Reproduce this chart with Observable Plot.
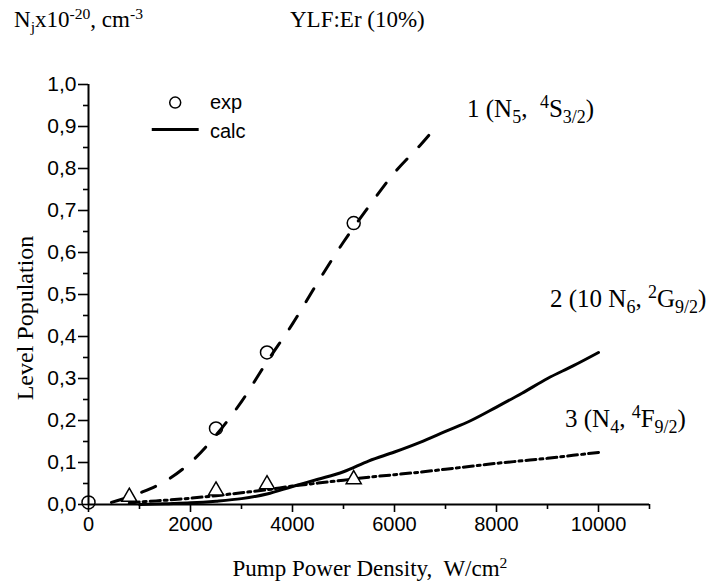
<!DOCTYPE html>
<html>
<head>
<meta charset="utf-8">
<script src="https://cdn.jsdelivr.net/npm/d3@7"></script>
<script src="https://cdn.jsdelivr.net/npm/@observablehq/plot@0.6"></script>
<style>
  html, body { margin: 0; padding: 0; background: #fff; }
</style>
</head>
<body>
<div id="chart"></div>
<script>
// Curve 1 (N5, 4S3/2) calculated, dashed
const calc1X = [450, 800, 1000, 1500, 2000, 2500, 3000, 3500, 4000, 4500, 5000, 5500, 6000, 6500, 6750];
const calc1Y = [0.005, 0.018, 0.027, 0.055, 0.1, 0.165, 0.245, 0.34, 0.43, 0.53, 0.625, 0.71, 0.79, 0.855, 0.89];
// Curve 2 (10 N6, 2G9/2) calculated, solid
const calc2X = [1000, 1500, 2000, 2500, 3000, 3500, 4000, 4500, 5000, 5500, 6000, 6500, 7000, 7500, 8000, 8500, 9000, 9500, 10000];
const calc2Y = [0, 0.002, 0.004, 0.008, 0.014, 0.025, 0.043, 0.06, 0.078, 0.104, 0.125, 0.148, 0.174, 0.2, 0.232, 0.265, 0.3, 0.33, 0.362];
// Curve 3 (N4, 4F9/2) calculated, dash-dot
const calc3X = [800, 1000, 1500, 2000, 2500, 3000, 3500, 4000, 4500, 5000, 5500, 6000, 6500, 7000, 7500, 8000, 8500, 9000, 9500, 10000];
const calc3Y = [0.003, 0.006, 0.01, 0.015, 0.021, 0.028, 0.035, 0.044, 0.051, 0.058, 0.065, 0.071, 0.077, 0.084, 0.091, 0.098, 0.104, 0.11, 0.117, 0.124];
// Experimental points
const exp1X = [0, 2500, 3500, 5200];
const exp1Y = [0.005, 0.181, 0.362, 0.67];
const exp3X = [800, 2500, 3500, 5200];
const exp3Y = [0.018, 0.033, 0.048, 0.06];
// Ticks
const xMajor = [0, 2000, 4000, 6000, 8000, 10000];
const xMinor = [1000, 3000, 5000, 7000, 9000, 11000];
const yMajor = [0, 0.1, 0.2, 0.3, 0.4, 0.5, 0.6, 0.7, 0.8, 0.9, 1.0];
const yMinor = [0.05, 0.15, 0.25, 0.35, 0.45, 0.55, 0.65, 0.75, 0.85, 0.95];

const zip = (xs, ys) => xs.map((x, i) => ({x, y: ys[i]}));
const c1 = zip(calc1X, calc1Y), c2 = zip(calc2X, calc2Y), c3 = zip(calc3X, calc3Y);
const e1 = zip(exp1X, exp1Y), e3 = zip(exp3X, exp3Y);

const plot = Plot.plot({
  width: 707, height: 583,
  marginLeft: 88, marginRight: 58, marginTop: 84, marginBottom: 79,
  x: {domain: [0, 11000]},
  y: {domain: [0, 1]},
  style: {fontFamily: "'Liberation Sans', Arial, sans-serif", fontSize: "20px", color: "black", background: "white", overflow: "visible"},
  marks: [
    Plot.axisX({ticks: xMajor, tickSize: 8, tickPadding: 4, tickFormat: d => String(d), label: null, strokeWidth: 1.6}),
    Plot.axisX({ticks: xMinor, tickSize: 5, tickFormat: () => "", label: null, strokeWidth: 1.6}),
    Plot.axisY({ticks: yMajor, tickSize: 10, tickPadding: 2, fontSize: 21, tickFormat: d => d.toFixed(1).replace(".", ","), label: null, strokeWidth: 1.6}),
    Plot.axisY({ticks: yMinor, tickSize: 5, tickFormat: () => "", label: null, strokeWidth: 1.6}),
    Plot.ruleY([0], {strokeWidth: 2}),
    Plot.ruleX([0], {strokeWidth: 2}),
    Plot.line(c1, {x: "x", y: "y", curve: "catmull-rom", strokeWidth: 3, strokeDasharray: "15,17"}),
    Plot.line(c2, {x: "x", y: "y", curve: "catmull-rom", strokeWidth: 3}),
    Plot.line(c3, {x: "x", y: "y", curve: "catmull-rom", strokeWidth: 3, strokeDasharray: "10,4,3,4"}),
    Plot.dot(e1, {x: "x", y: "y", r: 6.5, stroke: "black", strokeWidth: 1.5, fill: "none"}),
    Plot.dot(e3, {x: "x", y: "y", r: 5.6, symbol: "triangle", stroke: "black", strokeWidth: 1.5, fill: "white"}),
    // legend
    Plot.dot([{x: 1700, y: 0.957}], {x: "x", y: "y", r: 5.5, stroke: "black", strokeWidth: 1.5, fill: "none"}),
    Plot.ruleY([0.893], {x1: 1250, x2: 2170, strokeWidth: 3}),
    Plot.text([{x: 2380, y: 0.957, t: "exp"}, {x: 2380, y: 0.888, t: "calc"}], {x: "x", y: "y", text: "t", textAnchor: "start", fontSize: 20})
  ]
});

const svg = d3.select(plot);
const serif = "'Liberation Serif', 'Times New Roman', serif";
function rich(x, y, parts, size, rotate, anchor, ratio) {
  const r = ratio || 0.68;
  const t = svg.append("text")
    .attr("x", x).attr("y", y)
    .attr("font-family", serif)
    .attr("font-size", size)
    .attr("text-anchor", anchor || "start")
    .attr("fill", "black")
    .style("white-space", "pre");
  if (rotate) t.attr("transform", `rotate(${rotate},${x},${y})`);
  for (const [s, k] of parts) {
    const sp = t.append("tspan").text(s);
    if (k === "sub") sp.attr("font-size", size * r).attr("baseline-shift", -size * 0.22);
    if (k === "sup") sp.attr("font-size", size * r).attr("baseline-shift", size * 0.36);
  }
  return t;
}
rich(14, 27, [["N"], ["j", "sub"], ["x10"], ["-20", "sup"], [", cm"], ["-3", "sup"]], 23);
rich(290, 27, [["YLF:Er (10%)"]], 23);
rich(467, 117, [["1 (N"], ["5", "sub"], [",  "], ["4", "sup"], ["S"], ["3/2", "sub"], [")"]], 25, 0, "start", 0.72);
rich(550, 307, [["2 (10 N"], ["6", "sub"], [", "], ["2", "sup"], ["G"], ["9/2", "sub"], [")"]], 25, 0, "start", 0.72);
rich(565, 427, [["3 (N"], ["4", "sub"], [", "], ["4", "sup"], ["F"], ["9/2", "sub"], [")"]], 25, 0, "start", 0.72);
rich(370, 576, [["Pump Power Density,  W/cm"], ["2", "sup"]], 23, 0, "middle");
rich(33, 318, [["Level Population"]], 24, -90, "middle");

document.getElementById("chart").appendChild(plot);
</script>
</body>
</html>
